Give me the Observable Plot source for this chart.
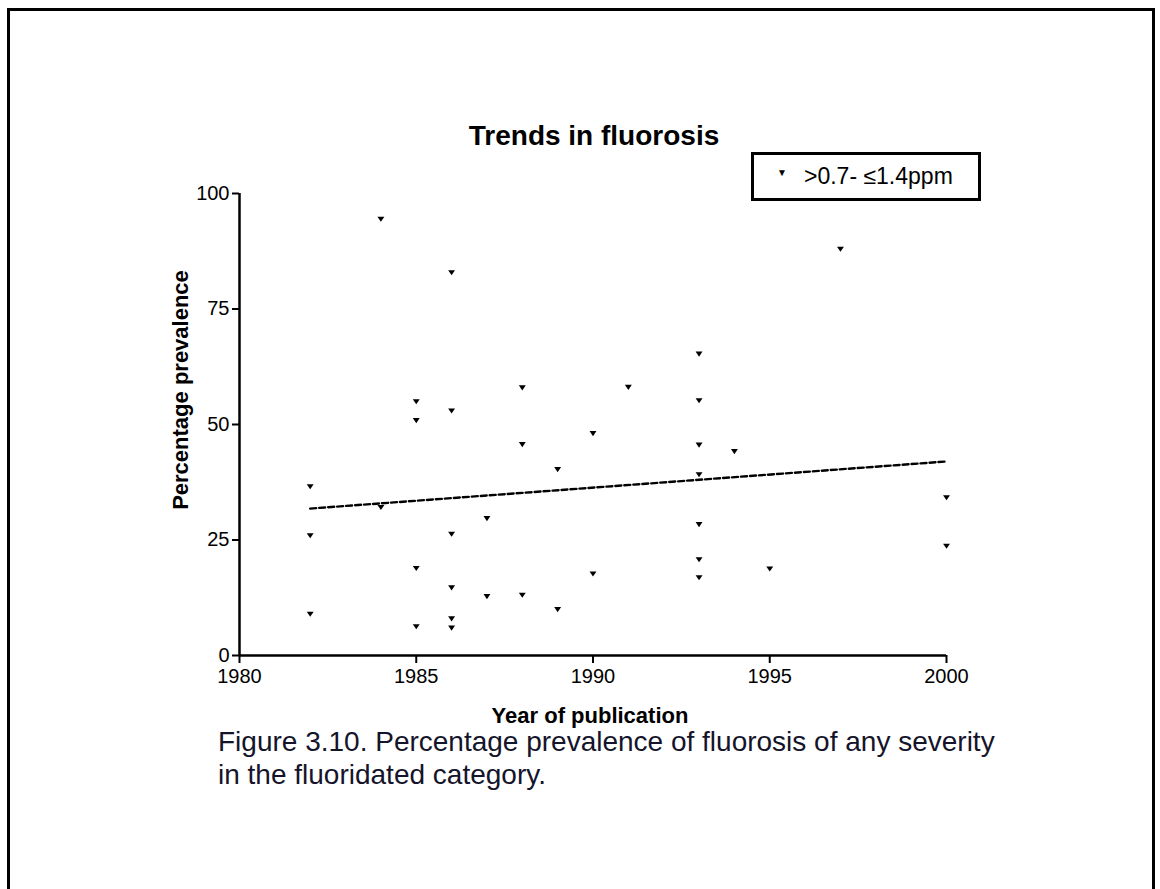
<!DOCTYPE html>
<html>
<head>
<meta charset="utf-8">
<script src="https://cdn.jsdelivr.net/npm/d3@7"></script>
<script src="https://cdn.jsdelivr.net/npm/@observablehq/plot@0.6"></script>
<style>
  html, body { margin: 0; padding: 0; background: #fff; }
  body { width: 1160px; height: 889px; overflow: hidden; position: relative; font-family: "Liberation Sans", Arial, sans-serif; color: #000; }
  #frame { position: absolute; left: 7px; top: 8px; width: 1148px; height: 920px; border: 3px solid #000; border-bottom: none; box-sizing: border-box; }
  #chart { position: absolute; left: 0; top: 0; }
  #title { position: absolute; left: 344px; width: 500px; top: 120px; line-height: 32px; text-align: center; font-weight: bold; font-size: 28px; }
  #legend { position: absolute; left: 751px; top: 152px; width: 230px; height: 49px; border: 3.5px solid #000; box-sizing: border-box; font-size: 23px; line-height: 42px; white-space: nowrap; }
  #legend .sym { display: inline-block; width: 44px; text-align: center; font-size: 10px; vertical-align: top; line-height: 36px; padding-left: 6px; }
  #ylabel { position: absolute; left: 181px; top: 390px; transform: translate(-50%, -50%) rotate(-90deg); font-weight: bold; font-size: 22px; white-space: nowrap; }
  #xlabel { position: absolute; left: 390px; width: 400px; top: 703px; line-height: 26px; text-align: center; font-weight: bold; font-size: 22px; }
  #caption { position: absolute; left: 218px; top: 725px; font-size: 28px; line-height: 33px; color: #14142a; white-space: nowrap; }
</style>
</head>
<body>
<div id="frame"></div>
<div id="chart"></div>
<div id="title">Trends in fluorosis</div>
<div id="legend"><span class="sym">▼</span>&gt;0.7- ≤1.4ppm</div>
<div id="ylabel">Percentage prevalence</div>
<div id="xlabel">Year of publication</div>
<div id="caption">Figure 3.10. Percentage prevalence of fluorosis of any severity<br>in the fluoridated category.</div>
<script>
// Data
const years = [
  1982, 1982, 1982,
  1984, 1984,
  1985, 1985, 1985, 1985,
  1986, 1986, 1986, 1986, 1986, 1986,
  1987, 1987,
  1988, 1988, 1988,
  1989, 1989,
  1990, 1990,
  1991,
  1993, 1993, 1993, 1993, 1993, 1993, 1993,
  1994,
  1995,
  1997,
  2000, 2000
];
const prevalence = [
  36.6, 26.0, 9.0,
  94.5, 32.1,
  55.0, 50.9, 18.9, 6.3,
  82.9, 53.0, 26.3, 14.7, 8.0, 6.0,
  29.7, 12.8,
  58.0, 45.7, 13.1,
  40.3, 10.0,
  48.1, 17.7,
  58.1,
  65.3, 55.2, 45.6, 39.2, 28.4, 20.8, 16.9,
  44.2,
  18.8,
  88.0,
  34.2, 23.7
];
const trendYears = [1982, 2000];
const trendValues = [31.8, 42.0];
const xTicks = [1980, 1985, 1990, 1995, 2000];
const yTicks = [0, 25, 50, 75, 100];

const points = years.map((y, i) => ({year: y, value: prevalence[i]}));
const trend = trendYears.map((y, i) => ({year: y, value: trendValues[i]}));

const triangleDown = {
  draw(context, size) {
    const s = Math.sqrt(size / Math.PI);
    context.moveTo(-1.15 * s, -0.75 * s);
    context.lineTo(1.15 * s, -0.75 * s);
    context.lineTo(0, 0.95 * s);
    context.closePath();
  }
};

const chart = Plot.plot({
  width: 1160,
  height: 700,
  marginLeft: 239,
  marginRight: 214,
  marginTop: 193,
  marginBottom: 45,
  x: {domain: [1980, 2000]},
  y: {domain: [0, 100]},
  style: {fontFamily: "Liberation Sans, Arial, sans-serif", fontSize: "20px", color: "#000", background: "transparent", overflow: "visible"},
  marks: [
    Plot.axisY({ticks: yTicks, tickSize: 7, tickPadding: 3, label: null, strokeWidth: 2, fontSize: 20}),
    Plot.axisX({ticks: xTicks, tickFormat: d => String(d), tickSize: 8, tickPadding: 5, label: null, strokeWidth: 2, fontSize: 20}),
    Plot.ruleX([1980], {stroke: "#000", strokeWidth: 2.5}),
    Plot.ruleY([0], {stroke: "#000", strokeWidth: 2.5}),
    Plot.line(trend, {x: "year", y: "value", stroke: "#000", strokeWidth: 2.4, strokeDasharray: "6,3"}),
    Plot.dot(points, {x: "year", y: "value", symbol: triangleDown, r: 3, fill: "#000", stroke: "none"})
  ]
});
document.getElementById("chart").appendChild(chart);
</script>
</body>
</html>
